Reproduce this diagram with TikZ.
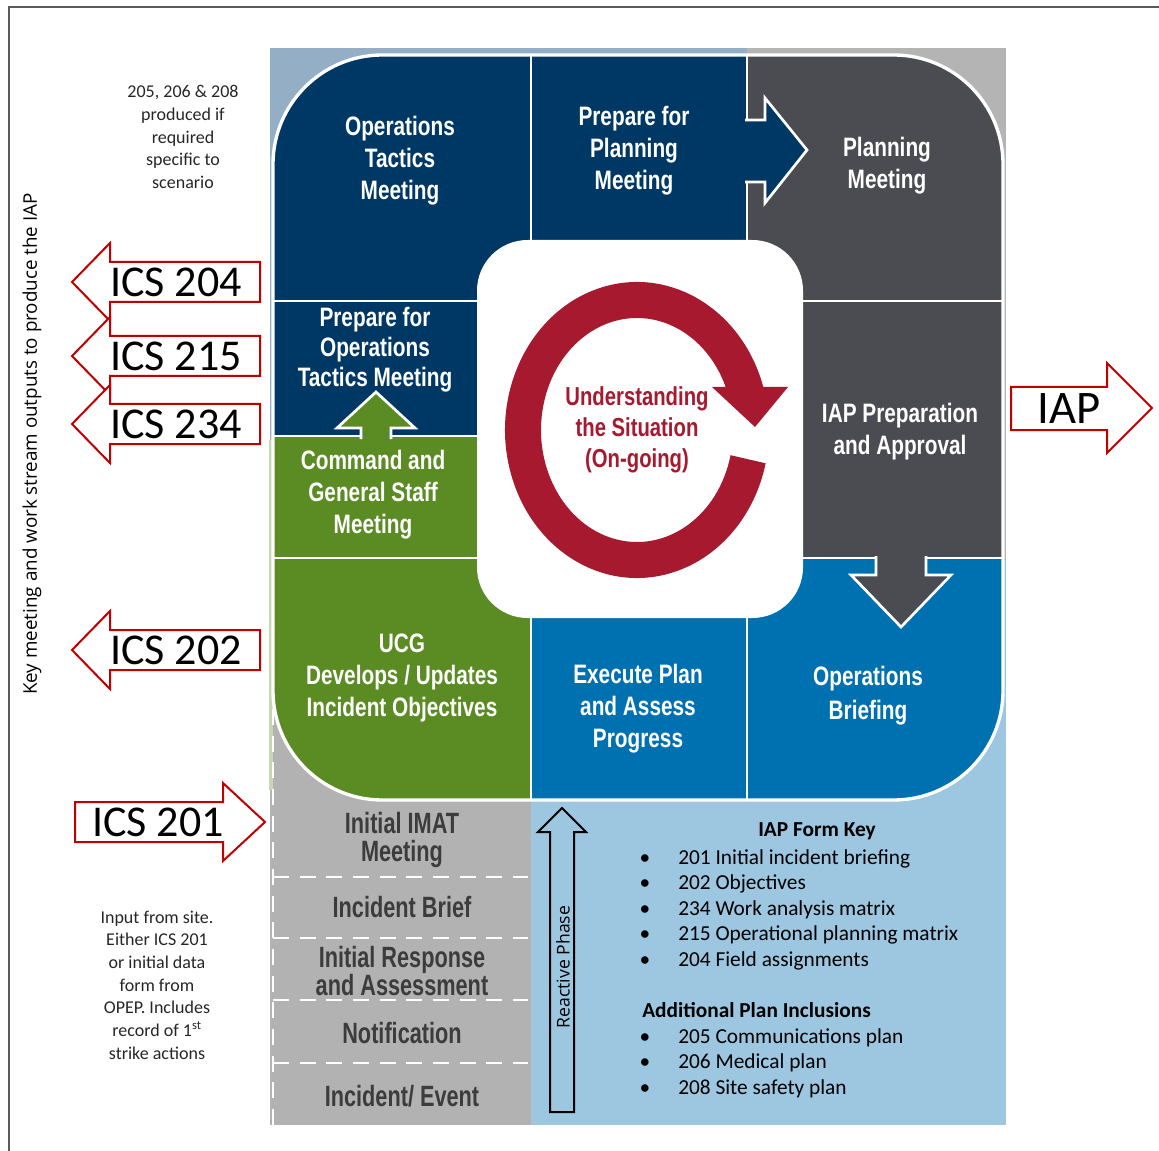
\documentclass[tikz,border=0pt]{standalone}
\usepackage{fontspec}
\setmainfont{Carlito}
\newfontfamily\panelfont{Liberation Sans}[FakeStretch=0.78]
\newfontfamily\stepfont{Liberation Sans}[FakeStretch=0.74]
\newfontfamily\sidefont{Open Sans}
\usetikzlibrary{positioning, calc}

\definecolor{navy}{HTML}{003865}
\definecolor{slate}{HTML}{4B4C52}
\definecolor{leaf}{HTML}{5B8C24}
\definecolor{ocean}{HTML}{0071B0}
\definecolor{crimson}{HTML}{A6192E}
\definecolor{icsred}{HTML}{C00000}
\definecolor{steelbg}{HTML}{94AEC5}
\definecolor{greybg}{HTML}{B4B4B4}
\definecolor{skybg}{HTML}{9DC6E0}
\definecolor{stepgrey}{HTML}{B2B2B2}
\definecolor{steptext}{HTML}{3C3C3C}
\definecolor{framegrey}{HTML}{5A5A5A}

\begin{document}
\begin{tikzpicture}[
        x=0.75pt, y=-0.75pt,
        panel/.style={text=white, font=\panelfont\bfseries\fontsize{20}{24}\selectfont, align=center},
        steplabel/.style={text=steptext, font=\stepfont\bfseries\fontsize{22}{21}\selectfont, align=center},
        note/.style={font=\fontsize{13.5}{17}\selectfont, align=center, text=black!85},
        keyitem/.style={anchor=base west, font=\fontsize{16}{18}\selectfont, inner sep=0pt},
        keyhead/.style={font=\bfseries\fontsize{16}{18}\selectfont, inner sep=0pt},
        icsarrow/.style={draw=icsred, fill=white, line width=1.5pt},
        icslabel/.style={font=\fontsize{33}{33}\selectfont, inner sep=0pt},
        divider/.style={white, line width=2.2pt},
        blockarrow/.style={draw=white, line width=2pt, line join=miter}
    ]
    \useasboundingbox (0,0) rectangle (1159,1151);
    \draw[framegrey, line width=1.5pt] (9,1151) -- (9,7) -- (1159,7);

    \fill[steelbg] (270,48) rectangle (747,436);
    \fill[greybg] (747,48) rectangle (1006,560);
    \fill[stepgrey] (270,436) rectangle (531,1125);
    \fill[skybg] (531,560) rectangle (1006,1125);
    \fill[leaf!35] (269,440) rectangle (273,790);
    \draw[white, line width=2.2pt, dash pattern=on 12pt off 8pt] (273,1125) -- (273,700);
    \foreach \yy in {877, 938, 1000, 1063}
        \draw[white, line width=2.2pt, dash pattern=on 12pt off 8pt] (273,\yy) -- (528,\yy);

    \begin{scope}
        \clip[rounded corners=82pt] (273,55) rectangle (1003,800);
        \fill[navy] (273,55) rectangle (747,301);
        \fill[slate] (747,55) rectangle (1003,558);
        \fill[navy] (273,301) rectangle (478,436);
        \fill[leaf] (273,436) rectangle (531,800);
        \fill[ocean] (531,558) rectangle (1003,800);
    \end{scope}
    \draw[divider] (531,55) -- (531,301);
    \draw[divider] (747,55) -- (747,301);
    \draw[divider] (273,301) -- (478,301);
    \draw[divider] (803,301) -- (1003,301);
    \draw[divider] (273,436) -- (478,436);
    \draw[divider] (273,558) -- (478,558);
    \draw[divider] (803,558) -- (1003,558);
    \draw[divider] (531,558) -- (531,800);
    \draw[divider] (747,558) -- (747,800);
    \fill[white, rounded corners=38pt] (477,240) rectangle (803,618);
    \draw[white, line width=2.5pt, rounded corners=82pt] (273,55) rectangle (1003,800);

    \filldraw[blockarrow, fill=navy] (745,120) -- (765,120) -- (765,98) -- (807,150) -- (765,203) -- (765,182) -- (745,182);
    \filldraw[blockarrow, fill=leaf] (361,439) -- (361,428) -- (337,428) -- (376,392) -- (415,428) -- (391,428) -- (391,439);
    \filldraw[blockarrow, fill=slate] (876,556) -- (876,575) -- (851,575) -- (901,627) -- (951,575) -- (926,575) -- (926,556);

    \fill[crimson, shift={(637,430)}] (-16.9:132 and 148)
        arc[start angle=-16.9, end angle=-347, x radius=132, y radius=148]
        -- (-347:96 and 112)
        arc[start angle=-347, end angle=-22.6, x radius=96, y radius=112] -- cycle;
    \fill[crimson] (712,387) -- (788,387) -- (755,427) -- cycle;

    \node[panel] (OpsTactics) at (400,161) {Operations\\Tactics\\Meeting};
    \node[panel] (PrepPlanning) at (634,151) {Prepare for\\Planning\\Meeting};
    \node[panel] (PlanningMtg) at (887,166) {Planning\\Meeting};
    \node[panel, font=\panelfont\bfseries\fontsize{20}{22.5}\selectfont] (PrepOps) at (375,350) {Prepare for\\Operations\\Tactics Meeting};
    \node[panel] (CmdStaff) at (373,495) {Command and\\General Staff\\Meeting};
    \node[panel, text=crimson, font=\panelfont\bfseries\fontsize{19.5}{23.5}\selectfont] (Situation) at (637,430) {Understanding\\the Situation\\(On-going)};
    \node[panel] (IAPPrep) at (900,432) {IAP Preparation\\and Approval};
    \node[panel] (UCG) at (402,678) {UCG\\Develops / Updates\\Incident Objectives};
    \node[panel] (Execute) at (638,709) {Execute Plan\\and Assess\\Progress};
    \node[panel, font=\panelfont\bfseries\fontsize{20}{25.5}\selectfont] (OpsBriefing) at (868,696) {Operations\\Briefing};

    \node[steplabel] (IMAT) at (402,840) {Initial IMAT\\Meeting};
    \node[steplabel] (Brief) at (402,907) {Incident Brief};
    \node[steplabel] (Response) at (402,971) {Initial Response\\and Assessment};
    \node[steplabel] (Notification) at (402,1033) {Notification};
    \node[steplabel] (IncidentEvent) at (402,1096) {Incident/ Event};

    \draw[black, line width=1.5pt] (550,1112) -- (550,832) -- (538,832) -- (562,808) -- (586,832) -- (574,832) -- (574,1112) -- cycle;
    \node[rotate=90, font=\sidefont\fontsize{13.2}{14}\selectfont] (Reactive) at (563,967) {Reactive Phase};

    \node[keyhead] (FormKey) at (817,831) {IAP Form Key};
    \foreach \yy/\txt [count=\i] in {857/201 Initial incident briefing, 882/202 Objectives, 908/234 Work analysis matrix, 933/215 Operational planning matrix, 959/204 Field assignments}{
        \node[keyitem, anchor=base] (FormBullet\i) at (645,{\yy+7}) {\textbullet};
        \node[keyitem] (FormItem\i) at (678,{\yy+7}) {\txt};
    }
    \node[keyhead, anchor=base west] (Additional) at (642,1017) {Additional Plan Inclusions};
    \foreach \yy/\txt [count=\i] in {1036/205 Communications plan, 1061/206 Medical plan, 1087/208 Site safety plan}{
        \node[keyitem, anchor=base] (PlanBullet\i) at (645,{\yy+7}) {\textbullet};
        \node[keyitem] (PlanItem\i) at (678,{\yy+7}) {\txt};
    }

    \foreach \yc/\num in {282/204, 356/215, 424/234, 650/202}{
        \draw[icsarrow] (260,{\yc-20}) -- (110,{\yc-20}) -- (110,{\yc-39}) -- (72,\yc) -- (110,{\yc+39}) -- (110,{\yc+20}) -- (260,{\yc+20}) -- cycle;
        \node[icslabel] (ICS\num) at (176,\yc) {ICS \num};
    }
    \draw[icsarrow] (75,802) -- (223,802) -- (223,783) -- (265,822) -- (223,861) -- (223,842) -- (75,842) -- cycle;
    \node[icslabel] (ICS201) at (158,822) {ICS 201};
    \draw[icsarrow] (1011,387) -- (1107,387) -- (1107,363) -- (1152,408) -- (1107,453) -- (1107,430) -- (1011,430) -- cycle;
    \node[icslabel, font=\fontsize{35}{35}\selectfont] (IAP) at (1069,409) {IAP};

    \node[note] (Optional) at (183,137) {205, 206 \& 208\\produced if\\required\\specific to\\scenario};
    \node[note] (SiteInput) at (157,985) {Input from site.\\Either ICS 201\\or initial data\\form from\\OPEP. Includes\\record of 1\textsuperscript{st}\\strike actions};
    \node[rotate=90, font=\sidefont\fontsize{14.1}{15}\selectfont] (KeyMeeting) at (32,444) {Key meeting and work stream outputs to produce the IAP};
\end{tikzpicture}
\end{document}
